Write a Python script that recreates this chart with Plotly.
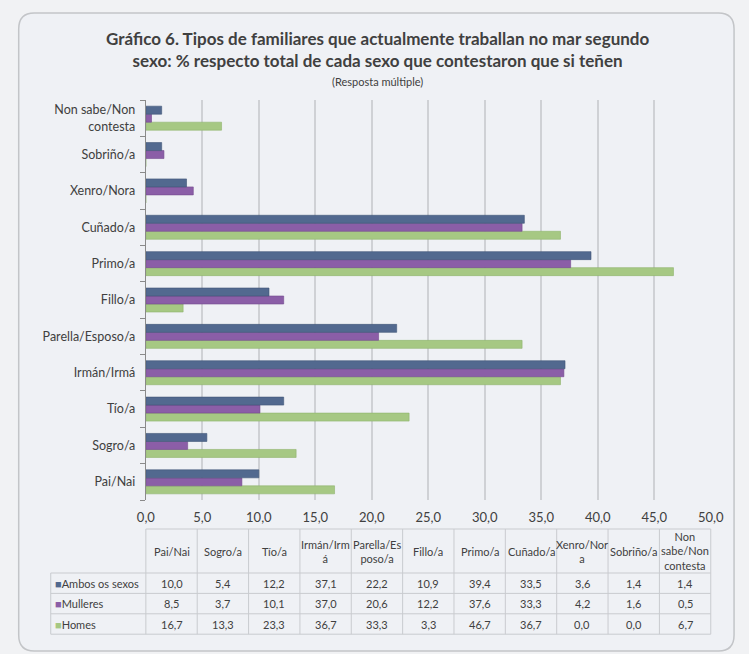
import plotly.graph_objects as go

# ---------------- data ----------------
categories = ["Pai/Nai", "Sogro/a", "Tío/a", "Irmán/Irmá", "Parella/Esposo/a", "Fillo/a",
              "Primo/a", "Cuñado/a", "Xenro/Nora", "Sobriño/a", "Non sabe/Non<br>contesta"]
table_headers = ["Pai/Nai", "Sogro/a", "Tío/a", "Irmán/Irm<br>á", "Parella/Es<br>poso/a", "Fillo/a",
                 "Primo/a", "Cuñado/a", "Xenro/Nor<br>a", "Sobriño/a", "Non<br>sabe/Non<br>contesta"]
ambos = [10.0, 5.4, 12.2, 37.1, 22.2, 10.9, 39.4, 33.5, 3.6, 1.4, 1.4]
mulleres = [8.5, 3.7, 10.1, 37.0, 20.6, 12.2, 37.6, 33.3, 4.2, 1.6, 0.5]
homes = [16.7, 13.3, 23.3, 36.7, 33.3, 3.3, 46.7, 36.7, 0.0, 0.0, 6.7]
series_names = ["Ambos os sexos", "Mulleres", "Homes"]
x_ticks = [0, 5, 10, 15, 20, 25, 30, 35, 40, 45, 50]

title_l1 = "Gráfico 6. Tipos de familiares que actualmente traballan no mar segundo"
title_l2 = "sexo: % respecto total de cada sexo que contestaron que si teñen"
subtitle = "(Resposta múltiple)"

# ---------------- style ----------------
W, H = 749, 654
colors = {"Ambos os sexos": "#52698f", "Mulleres": "#8b5ea7", "Homes": "#a6c883"}
edge = {"Ambos os sexos": "#3f5577", "Mulleres": "#744a8d", "Homes": "#8fb36c"}
FONT = "Lato"
TXT = "#404040"
BG = "#eff1f5"
OUT_BG = "#f1f2f4"
LINE = "#c9cbcf"

PL, PR, PT, PB = 141, 723, 100, 500   # plot area in pixels


def px(x):
    return x / W


def py(y):
    return 1 - y / H


def fmt(v):
    return f"{v:.1f}".replace(".", ",")


fig = go.Figure()
series_vals = {"Ambos os sexos": ambos, "Mulleres": mulleres, "Homes": homes}
# add in reverse so "Ambos" sits on top within each group
for name in reversed(series_names):
    fig.add_trace(go.Bar(
        y=categories, x=series_vals[name], orientation="h", name=name,
        marker=dict(color=colors[name], line=dict(color=edge[name], width=0.6)),
        showlegend=False, hoverinfo="x+y",
    ))

# ---------------- frame ----------------
r = 16
x0, y0, x1, y1 = 10, 13, 747, 651
path = (f"M {px(x0 + r)},{py(y0)} L {px(x1 - r)},{py(y0)} Q {px(x1)},{py(y0)} {px(x1)},{py(y0 + r)} "
        f"L {px(x1)},{py(y1 - r)} Q {px(x1)},{py(y1)} {px(x1 - r)},{py(y1)} "
        f"L {px(x0 + r)},{py(y1)} Q {px(x0)},{py(y1)} {px(x0)},{py(y1 - r)} "
        f"L {px(x0)},{py(y0 + r)} Q {px(x0)},{py(y0)} {px(x0 + r)},{py(y0)} Z")
fig.add_shape(type="path", path=path, xref="paper", yref="paper", layer="below",
              fillcolor=BG, line=dict(color="#c3c5c8", width=1.5))

# ---------------- data table (drawn as layout lines + text) ----------------
tab_left, col0_right, tab_right = 43, PL, PR
head_top, head_bot, row_h = 529, 573, 20.4
ncol = len(categories)
cw = (tab_right - col0_right) / ncol
col_edges = [col0_right + i * cw for i in range(ncol + 1)]
row_edges = [head_bot + i * row_h for i in range(len(series_names) + 1)]


def hline(y, xa, xb):
    fig.add_shape(type="line", xref="paper", yref="paper", x0=px(xa), x1=px(xb), y0=py(y), y1=py(y),
                  line=dict(color=LINE, width=1))


def vline(x, ya, yb):
    fig.add_shape(type="line", xref="paper", yref="paper", x0=px(x), x1=px(x), y0=py(ya), y1=py(yb),
                  line=dict(color=LINE, width=1))


hline(head_top, col0_right, tab_right)
for yy in row_edges:
    hline(yy, tab_left, tab_right)
vline(tab_left, head_bot, row_edges[-1])
for xx in col_edges:
    vline(xx, head_top, row_edges[-1])

for i, h in enumerate(table_headers):
    fig.add_annotation(text=h, xref="paper", yref="paper", x=px((col_edges[i] + col_edges[i + 1]) / 2),
                       y=py((head_top + head_bot) / 2), xanchor="center", yanchor="middle",
                       showarrow=False, align="center",
                       font=dict(family=FONT, size=11, color=TXT))

for j, name in enumerate(series_names):
    yc = (row_edges[j] + row_edges[j + 1]) / 2
    fig.add_annotation(text=f"<span style='color:{colors[name]}'>■</span>{name}", xref="paper", yref="paper",
                       x=px(tab_left + 2), y=py(yc), xanchor="left", yanchor="middle", showarrow=False,
                       font=dict(family=FONT, size=11, color=TXT))
    vals = series_vals[name]
    for i in range(ncol):
        fig.add_annotation(text=fmt(vals[i]), xref="paper", yref="paper",
                           x=px((col_edges[i] + col_edges[i + 1]) / 2), y=py(yc),
                           xanchor="center", yanchor="middle", showarrow=False,
                           font=dict(family=FONT, size=11, color=TXT))

# ---------------- titles ----------------
fig.add_annotation(text=f"<b>{title_l1}</b><br><b>{title_l2}</b>", xref="paper", yref="paper",
                   x=px(380), y=py(26), xanchor="center", yanchor="top", showarrow=False,
                   font=dict(family=FONT, size=17, color=TXT), align="center")
fig.add_annotation(text=subtitle, xref="paper", yref="paper",
                   x=px(380), y=py(81), xanchor="center", yanchor="middle", showarrow=False,
                   font=dict(family=FONT, size=11, color=TXT))

fig.update_layout(
    width=W, height=H, margin=dict(l=0, r=0, t=0, b=0),
    paper_bgcolor=OUT_BG, plot_bgcolor="rgba(0,0,0,0)",
    separators=",.", barmode="group", bargap=0.34, bargroupgap=0,
    font=dict(family=FONT, color=TXT),
    xaxis=dict(domain=[px(PL), px(PR)], range=[0, 50], tickvals=x_ticks, tickformat=".1f",
               showgrid=True, gridcolor="#cfd1d5", gridwidth=1.5, zeroline=False,
               showline=False, ticks="", ticklabelstandoff=8,
               tickfont=dict(family=FONT, size=13, color=TXT)),
    yaxis=dict(domain=[py(PB), py(PT)], type="category", showgrid=False,
               showline=True, linecolor="#8a8a8a", linewidth=1.2,
               ticks="outside", tickson="boundaries", ticklen=5, tickcolor="#8a8a8a",
               ticklabelstandoff=7,
               tickfont=dict(family=FONT, size=12.5, color=TXT)),
)

fig.write_html("out.html", config={"displayModeBar": False},
               post_script="document.body.style.margin='0';")
